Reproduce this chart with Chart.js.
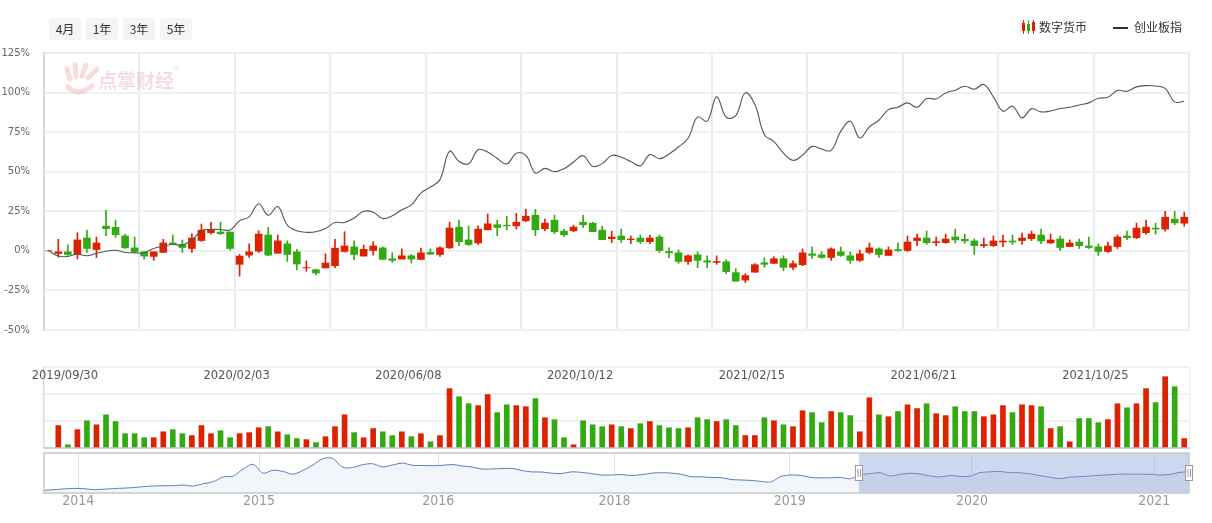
<!DOCTYPE html>
<html lang="zh-CN">
<head>
<meta charset="utf-8">
<title>数字货币 vs 创业板指</title>
<script src="https://cdn.jsdelivr.net/npm/chart.js@4.4.1/dist/chart.umd.min.js"></script>
<style>
    html, body { margin: 0; padding: 0; background: #fff; }
    #wrap { position: relative; width: 1212px; height: 523px; overflow: hidden; font-family: "Noto Sans CJK SC", "Noto Sans", sans-serif; }
    canvas { position: absolute; left: 0; }
    #volChart { top: 360px; }
    #navChart { top: 450px; }
    #mainChart { top: 0; }
    .tab { position: absolute; top: 18px; width: 32px; height: 22px; line-height: 22px; background: #f4f4f4; border-radius: 2px; font-size: 12px; color: #333; text-align: center; }
    .lg-text { position: absolute; top: 18px; font-size: 12px; color: #333; line-height: 18px; }
    .lg-candle { position: absolute; top: 21px; width: 3px; }
    .lg-wick { position: absolute; top: 20px; width: 1px; height: 14px; }
    .lg-line { position: absolute; left: 1113px; top: 27px; width: 15px; height: 2px; background: #333; }
</style>
</head>
<body>
<div id="wrap">
    <canvas id="volChart" width="1212" height="92"></canvas>
    <canvas id="navChart" width="1212" height="73"></canvas>
    <canvas id="mainChart" width="1212" height="392"></canvas>

    <div class="tab" style="left:49px">4月</div>
    <div class="tab" style="left:86px">1年</div>
    <div class="tab" style="left:123px">3年</div>
    <div class="tab" style="left:160px">5年</div>

    <div class="lg-wick" style="left:1023px;background:#dd2200"></div>
    <div class="lg-candle" style="left:1022px;top:23px;height:8px;background:#dd2200"></div>
    <div class="lg-wick" style="left:1028px;background:#33aa11"></div>
    <div class="lg-candle" style="left:1027px;top:24px;height:7px;background:#33aa11"></div>
    <div class="lg-wick" style="left:1033px;background:#dd2200"></div>
    <div class="lg-candle" style="left:1032px;top:22px;height:9px;background:#dd2200"></div>
    <div class="lg-text" style="left:1039px">数字货币</div>
    <div class="lg-line"></div>
    <div class="lg-text" style="left:1134px">创业板指</div>
</div>

<script>
/* =========================
   DATA (weekly, % change)
========================= */

const startWeek = Date.UTC(2019, 8, 16);

const opens = [0, -1.7, 0, -2.3, 8.1, 0.8, 15.6, 14.8, 9.4, 1.9, -0.6, -3.5, -1, 5, 4, 1.5, 6.5, 11.5, 11.9, 11.9,
    -8.5, -2.7, -0.2, 10, -1.5, 4.4, 0, -10.8, -11.9, -10.8, -9.4, -0.4, 2.5, -3.3, 0.2, 1.9, -5, -5.2, -3.1, -5.4,
    -1, -2.3, 1.9, 15, 6.9, 5, 13.3, 16.5, 16.2, 15.8, 19, 22.5, 14, 19.4, 12.5, 12.7, 18.1, 17.5, 13.1, 7.7,
    9.4, 7.1, 8.1, 5.8, 8.75, -0.4, -1.25, -6.7, -2.5, -6.25, -7.3, -6.9, -13.75, -18.5, -13.5, -7.5, -7.9, -5, -10.4, -8.75,
    -1.9, -2.5, -4.2, 0, -3.1, -6, -1, 1.25, -2.9, 0.8, 0.2, 6.5, 8.1, 5.2, 5.2, 8.75, 7.3, 6.25, 3.3, 3.3,
    5.6, 6.25, 6.5, 7.7, 10, 5, 7.5, 2.7, 5.6, 3.1, 2.5, -0.4, 2.7, 9.4, 8.3, 11.5, 14.4, 13.75, 20, 17.5];

const closes = [0, 0, -2.3, 6.9, 1.5, 5, 14, 10.2, 1.9, -0.6, -3.3, -0.6, 5, 4, 2.1, 8.1, 13.1, 13.1, 10.8, 1.5,
    -3.3, -0.6, 10.6, -2.7, 6.3, -2.3, -8.3, -10.6, -14, -7.7, 1.7, 3.1, -2.3, 1, 3.1, -5.4, -6, -3.1, -5.2, -1.25,
    -2.1, 1.9, 14.4, 5.8, 4, 13.75, 17.1, 14.8, 15.8, 18.1, 21.9, 13.3, 17.5, 12.1, 10.2, 15, 16.5, 12.1, 7.1, 8.75,
    7.1, 7.5, 5.8, 8.1, 0.2, -1.25, -6.7, -3.1, -6, -7.1, -6.7, -13.1, -19.2, -15.6, -8.75, -8.5, -5, -10.4, -8.1, -1.25,
    -2.9, -4.2, 1.25, -2.9, -6, -1.9, 1.9, -2.3, 0.6, 0.2, 5.6, 8.1, 5.2, 5.8, 7.5, 6.9, 6.25, 3.3, 4, 6.25,
    6.25, 5.6, 8.1, 10.6, 6.25, 6.9, 2.1, 5, 3.3, 2.1, -0.4, 3.1, 8.75, 8.3, 14.4, 15, 13.75, 21.25, 17.7, 21.25];

const highs = [0, 7.3, 3.75, 11.5, 13.1, 8.75, 25.6, 19.4, 10.6, 8.75, 0, 0, 7.3, 10, 6.9, 10.8, 16.9, 18.1, 18.1, 11.9,
    -2.3, 4.4, 12.7, 14.8, 10, 6.3, 1, -6.3, -11.5, -1.9, 7.3, 12.1, 6.3, 3.75, 5.8, 2.5, -1.2, 1.25, -2.3, 1.7,
    1.25, 2.7, 18.1, 19.4, 15.6, 15.8, 23.3, 19.4, 21.9, 23.75, 26.25, 26.25, 20, 22.5, 13.75, 16.25, 22.5, 18.1, 15.6, 12.5,
    13.75, 9.4, 10, 10, 10, 1.9, 0.6, -2.5, 0, -3.1, -3.1, -5.6, -11.25, -14.4, -8.1, -4.4, -3.75, -3.1, -6.25, 1.25,
    2.5, -0.6, 1.9, 2.5, -0.6, 0.6, 5, 1.9, 2.5, 5, 9.4, 10.6, 12.5, 8.75, 10.6, 13.75, 10.6, 7.5, 8.1, 9.4,
    10, 10, 11.25, 12.5, 13.75, 10.6, 9.4, 6.9, 7.5, 8.75, 4.4, 5.6, 10, 12.5, 17.5, 19.4, 17.5, 25, 25, 24.4];

const lows = [0, -4, -2.7, -5, -1, -4.2, 9.6, 8.5, 1.5, -1, -5.2, -6, -1, 4, -1, -1, 6, 10.4, 10.4, 0.4,
    -16, -4.2, -1, -3.1, -1.5, -6.7, -12.1, -12.9, -15.2, -10.8, -10.6, -0.8, -5.8, -3.3, -2.7, -5.4, -7.3, -5.2, -7.7, -5.4,
    -2.1, -3.5, 1.5, 3.3, 3.3, 4, 13.3, 9.6, 13.3, 13.75, 18.5, 9.6, 12.7, 10.8, 9, 12.1, 14.6, 12.1, 7.1, 5.2,
    5.2, 4.6, 4.6, 4.6, -1, -4.4, -7.9, -8.5, -10.6, -10.6, -8.5, -14.4, -19.2, -20, -13.5, -10.4, -7.9, -12.5, -11.9, -9.4,
    -4.8, -4.8, -6, -3.5, -7.9, -6.7, -1.9, -4.2, -2.9, -0.4, -0.4, 3.3, 4, 3.3, 4.8, 5, 4.8, -2.3, 2.1, 2.7,
    2.7, 4, 4, 6.5, 4.6, 4.6, 0.2, 2.7, 1.5, 1.5, -2.9, -1, 1.5, 7.1, 7.7, 10.6, 10.6, 12.5, 16.5, 15.6];

const gemIndex = [0, -3.3, -3.5, -2.1, -3.1, -1.5, -0.2, 0.4, -1, -1.25, -1.25, 1.5, 2.9, 4, 3.75, 6.9, 12.7, 13.5, 13.5, 13.1,
    19, 21.5, 29.8, 22.5, 28, 16.25, 12.7, 11.7, 12.1, 14.2, 17.9, 17.9, 20.8, 25, 24.4, 20.4, 22.2, 26, 29, 36.5,
    40.3, 45, 62.9, 56.5, 55, 63.9, 62.4, 58.4, 54.9, 61.6, 60.3, 49.2, 52.1, 50, 51.9, 56.1, 60.1, 53.4, 55.1, 60.3,
    59.1, 56.5, 53.8, 60.8, 58.2, 61.2, 65.6, 71.1, 84.6, 81.9, 97.3, 84.4, 85.4, 99.8, 92.4, 73.4, 69, 61.8, 57.2, 60.5,
    66, 64.3, 63.5, 75.5, 81.9, 71.3, 78.3, 82.5, 89.2, 90.7, 93.5, 90.7, 96.2, 96, 99.8, 101.5, 104, 102.1, 105.1, 97.3,
    88.2, 91.4, 84, 89.7, 87.8, 88.4, 89.9, 90.7, 92.2, 93.5, 96.4, 97, 101.3, 100.8, 103.6, 104.4, 104.2, 102.7, 94.1, 94.5];

const volumes = [null, 83, 12, 68, 101, 86, 123, 98, 53, 53, 38, 38, 60, 68, 53, 46, 83, 53, 64, 38,
    53, 57, 75, 79, 60, 49, 35, 31, 20, 42, 79, 123, 57, 38, 72, 60, 46, 60, 42, 53,
    23, 46, 220, 190, 164, 157, 198, 131, 160, 157, 153, 183, 112, 105, 38, 12, 101, 86, 79, 86,
    79, 72, 90, 98, 83, 75, 72, 75, 112, 105, 98, 105, 83, 46, 46, 112, 101, 86, 79, 138,
    131, 94, 135, 131, 120, 60, 186, 123, 116, 135, 160, 146, 164, 127, 120, 153, 135, 135, 116, 123,
    157, 131, 160, 157, 153, 72, 79, 23, 109, 109, 94, 105, 164, 149, 164, 220, 168, 264, 227, 35];

/* navigator: long history of the index, sampled evenly */
const navValues = [2.7, 3.3, 4.1, 4.6, 4.3, 3.3, 3.8, 4.4, 4.9, 5.4, 6.4, 7, 7.3, 7.3, 8, 7, 9.3, 11.3, 16.1, 16.9,
    24, 28.7, 19.7, 22.8, 21.5, 18.8, 22.5, 28, 34.3, 34.6, 25.7, 25.5, 28.3, 29.3, 26.1, 28, 29.9, 27.7, 27.5, 27.3,
    27.6, 28.5, 27, 26, 23.9, 24.1, 24.4, 24.6, 22.5, 21.1, 21, 19.8, 19.5, 21.2, 20.6, 19.4, 18, 18, 18.5, 17.5,
    18.3, 19.8, 20.3, 19.9, 18.7, 16.3, 16.2, 15.5, 15.3, 13.5, 13, 12.6, 11.6, 11.1, 16.5, 18, 17.6, 15.6, 15.1, 15.2,
    15.6, 14.3, 18.2, 19.4, 20.2, 17, 18.7, 19.7, 19, 16.9, 16, 17.6, 16.5, 16.8, 20.4, 21.1, 21.6, 20.3, 20.3, 19.1,
    17.5, 15.8, 14.3, 15.8, 16.3, 17, 17.7, 18.2, 19, 18.8, 18.8, 18.8, 18, 18.4, 20.5, 21.3];
const navYears = ["2014", "2015", "2016", "2018", "2019", "2020", "2021"];
const navYearAt = [3.45, 21.6, 39.6, 57.3, 74.9, 93.2, 111.5];
const navRange = [81.85, 115];

const yTicks = [-50, -25, 0, 25, 50, 75, 100, 125];

const RED = "#dd2200";
const GREEN = "#33aa11";

document.addEventListener("DOMContentLoaded", () => {
    loadMainChart();
    loadVolumeChart();
    loadNavigator();
});

function weekLabels() {
    return opens.map((_, i) => {
        const d = new Date(startWeek + i * 7 * 86400000);
        const mm = String(d.getUTCMonth() + 1).padStart(2, "0");
        const dd = String(d.getUTCDate()).padStart(2, "0");
        return d.getUTCFullYear() + "/" + mm + "/" + dd;
    });
}

function candleColors() {
    return opens.map((o, i) => (closes[i] >= o ? RED : GREEN));
}

/* =========================
   MAIN (candles + line)
========================= */

const watermark = {
    id: "watermark",
    beforeDatasetsDraw(chart) {
        const ctx = chart.ctx;
        const a = chart.chartArea;
        const x = a.left, y = a.top;
        ctx.save();
        ctx.strokeStyle = "rgba(228,140,140,0.3)";
        ctx.fillStyle = "rgba(228,140,140,0.3)";
        ctx.lineCap = "round";
        ctx.lineWidth = 5;
        [[26, 26, 23, 16], [32, 24, 31, 12], [38, 23, 42, 12], [44, 25, 53, 16]].forEach(f => {
            ctx.beginPath();
            ctx.moveTo(x + f[0], y + f[1]);
            ctx.lineTo(x + f[2], y + f[3]);
            ctx.stroke();
        });
        ctx.beginPath();
        ctx.moveTo(x + 24, y + 34);
        ctx.quadraticCurveTo(x + 34, y + 44, x + 48, y + 33);
        ctx.stroke();
        ctx.font = "bold 19px 'Noto Sans CJK SC'";
        ctx.textBaseline = "middle";
        ctx.fillText("点掌财经", x + 54, y + 28);
        ctx.font = "7px 'DejaVu Sans'";
        ctx.fillText("®", x + 129, y + 15);
        ctx.restore();
    }
};

let mainChart = null;

function loadMainChart() {
    const labels = weekLabels();
    const colors = candleColors();
    const gridBlue = "#e7ebf2";

    mainChart = new Chart(document.getElementById("mainChart"), {
        type: "bar",
        data: {
            labels: labels,
            datasets: [
                {
                    type: "line",
                    label: "创业板指",
                    data: gemIndex,
                    borderColor: "#555",
                    borderWidth: 1.1,
                    pointRadius: 0,
                    tension: 0.4,
                    order: 0
                },
                {
                    label: "数字货币",
                    data: opens.map((o, i) => [o, closes[i]]),
                    backgroundColor: colors,
                    barThickness: 7,
                    grouped: false,
                    order: 1
                },
                {
                    label: "wick",
                    data: lows.map((l, i) => [l, highs[i]]),
                    backgroundColor: colors,
                    barThickness: 1,
                    grouped: false,
                    order: 2
                }
            ]
        },
        options: {
            responsive: false,
            animation: false,
            events: [],
            layout: { padding: { top: 53, right: 23, left: 0, bottom: 0 } },
            plugins: { legend: { display: false }, tooltip: { enabled: false } },
            scales: {
                x: {
                    offset: true,
                    border: { display: false },
                    grid: {
                        offset: true,
                        drawTicks: false,
                        lineWidth: 2,
                        color: ctx => (ctx.index === undefined || ctx.index % 10 === 0) ? gridBlue : "rgba(0,0,0,0)"
                    },
                    ticks: {
                        autoSkip: false,
                        maxRotation: 0,
                        padding: 39,
                        labelOffset: -3,
                        color: "#555",
                        font: { family: "'DejaVu Sans'", size: 11.5 },
                        callback: (v, i) => (i % 18 === 2 ? labels[i] : "")
                    },
                    afterFit: s => {
                        s.height = 62;
                        s.paddingLeft = 0;
                        s.paddingRight = 0;
                    }
                },
                y: {
                    min: -50,
                    max: 125,
                    afterBuildTicks: s => { s.ticks = yTicks.map(v => ({ value: v })); },
                    border: { display: true, color: "#cdd5e4", width: 1.5 },
                    grid: { color: "#eef0f4", lineWidth: 2, drawTicks: false },
                    ticks: {
                        padding: 14,
                        color: "#666",
                        font: { family: "'DejaVu Sans'", size: 10 },
                        callback: v => v + "%"
                    },
                    afterFit: s => { s.width = 44; }
                }
            }
        },
        plugins: [watermark]
    });
}

/* =========================
   VOLUME
========================= */

function loadVolumeChart() {
    const colors = candleColors();

    new Chart(document.getElementById("volChart"), {
        type: "bar",
        data: {
            labels: weekLabels(),
            datasets: [{
                label: "成交量",
                data: volumes,
                backgroundColor: colors,
                barThickness: 5
            }]
        },
        options: {
            responsive: false,
            animation: false,
            events: [],
            layout: { padding: { top: 7, right: 23, left: 0, bottom: 0 } },
            plugins: { legend: { display: false }, tooltip: { enabled: false } },
            scales: {
                x: {
                    offset: true,
                    ticks: { display: false },
                    border: { display: true, color: "#c6d0e2", width: 2 },
                    grid: {
                        offset: true,
                        drawTicks: false,
                        lineWidth: 1,
                        color: ctx => ctx.index === undefined ? "#e7ebf2" : "rgba(0,0,0,0)"
                    },
                    afterFit: s => {
                        s.height = 4;
                        s.paddingLeft = 0;
                        s.paddingRight = 0;
                    }
                },
                y: {
                    min: 0,
                    max: 300,
                    ticks: { display: false, stepSize: 100 },
                    border: { display: true, color: "#d3dae7", width: 1.5 },
                    grid: { color: "#eff1f5", lineWidth: 2, drawTicks: false },
                    afterFit: s => { s.width = 44; }
                }
            }
        }
    });
}

/* =========================
   NAVIGATOR
========================= */

const navDecor = {
    id: "navDecor",
    afterDatasetsDraw(chart) {
        const ctx = chart.ctx;
        const a = chart.chartArea;
        const xs = chart.scales.x;
        const x0 = xs.getPixelForValue(navRange[0]);
        const x1 = xs.getPixelForValue(navRange[1]);

        ctx.save();
        ctx.fillStyle = "rgba(130,155,210,0.4)";
        ctx.fillRect(x0, a.top, x1 - x0, a.bottom - a.top);

        ctx.strokeStyle = "#c8c8c8";
        ctx.lineWidth = 1.5;
        ctx.strokeRect(a.left, a.top, a.right - a.left, a.bottom - a.top);

        const midY = (a.top + a.bottom) / 2;
        [x0, x1].forEach(x => {
            ctx.fillStyle = "#fff";
            ctx.strokeStyle = "#999";
            ctx.lineWidth = 1;
            ctx.fillRect(x - 4, midY - 8, 8, 16);
            ctx.strokeRect(x - 3.5, midY - 7.5, 7, 15);
            ctx.beginPath();
            ctx.moveTo(x - 1, midY - 4); ctx.lineTo(x - 1, midY + 4);
            ctx.moveTo(x + 1.5, midY - 4); ctx.lineTo(x + 1.5, midY + 4);
            ctx.stroke();
        });
        ctx.restore();
    }
};

function loadNavigator() {
    new Chart(document.getElementById("navChart"), {
        type: "line",
        data: {
            datasets: [{
                label: "历史",
                data: navValues.map((v, i) => ({ x: i, y: v })),
                borderColor: "#5b7fbd",
                borderWidth: 1,
                backgroundColor: "#f2f5f9",
                fill: "origin",
                pointRadius: 0,
                tension: 0.3
            }]
        },
        options: {
            responsive: false,
            animation: false,
            events: [],
            layout: { padding: { top: 3, right: 23, left: 44, bottom: 0 } },
            plugins: { legend: { display: false }, tooltip: { enabled: false } },
            scales: {
                x: {
                    type: "linear",
                    min: 0,
                    max: navValues.length - 1,
                    afterBuildTicks: s => { s.ticks = navYearAt.map(v => ({ value: v })); },
                    border: { display: false },
                    grid: { color: "#e3e3e3", lineWidth: 1, drawTicks: false },
                    ticks: {
                        padding: 0,
                        maxRotation: 0,
                        color: "#999",
                        font: { family: "'Liberation Sans Narrow', 'DejaVu Sans Condensed', sans-serif", size: 14 },
                        callback: (v, i) => navYears[i]
                    },
                    afterFit: s => { s.height = 30; }
                },
                y: {
                    display: false,
                    min: 0,
                    max: 40
                }
            }
        },
        plugins: [navDecor]
    });
}
</script>
</body>
</html>
